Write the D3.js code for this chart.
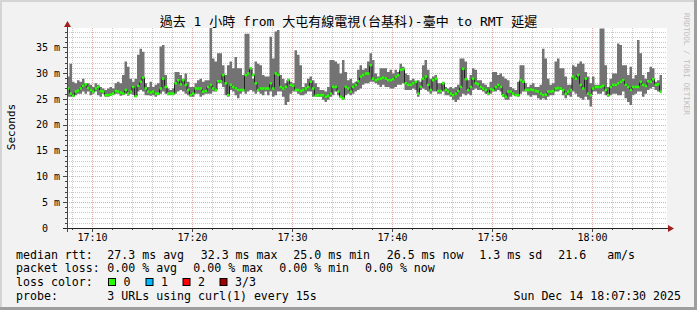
<!DOCTYPE html>
<meta charset="utf-8">
<script src="https://d3js.org/d3.v7.min.js"></script>
<style>
  body { margin: 0; background: #f2f2f2; }
  svg text { font-family: "DejaVu Sans Mono", "Noto Sans CJK TC", monospace; fill: #000; }
</style>
<div id="chart"></div>
<script>
// 15 s steps starting 17:07:30, values in milliseconds
const startTime = new Date(2025, 11, 14, 17, 7, 30);
const endTime = new Date(2025, 11, 14, 18, 7, 30);
const stepSec = 15;

const rttMax = [
  29.3,31.8,28.3,28.0,28.6,28.3,28.9,28.0,28.0,27.7, 27.3,28.0,27.7,27.3,27.0,26.7,27.0,27.3,27.0,28.0,
  28.3,28.0,29.6,32.2,31.2,28.9,28.3,28.9,33.5,34.7, 34.1,28.0,27.3,28.3,27.3,27.7,28.0,35.1,35.4,29.6,
  27.0,26.7,27.0,30.2,30.2,29.6,28.9,29.9,28.3,27.3, 27.3,28.0,28.6,28.9,28.3,28.6,28.6,39.5,32.8,32.2,
  33.8,33.8,31.5,29.6,31.5,32.2,30.9,33.1,30.9,30.9, 29.6,37.6,37.6,30.9,28.9,32.2,31.8,31.5,29.6,29.3,
  29.3,37.0,32.8,38.0,38.3,29.6,28.9,28.0,28.9,28.3, 28.0,34.4,33.5,31.5,27.3,28.0,28.9,29.3,28.6,28.0,
  27.3,26.7,26.7,26.4,27.3,32.5,32.5,32.2,31.8,29.9, 32.5,30.2,28.6,28.9,28.0,28.3,30.6,31.5,30.6,30.9,
  32.2,33.8,32.5,29.9,29.3,30.9,30.9,30.9,30.2,30.6, 29.9,30.6,30.2,31.8,31.2,29.9,29.6,28.6,28.9,28.3,
  28.6,28.3,31.5,32.5,30.6,28.9,29.3,29.6,28.0,28.0, 28.3,27.3,27.0,27.3,27.0,27.3,27.7,32.8,32.8,32.2,
  28.6,29.6,30.9,30.6,28.6,28.6,28.0,27.7,27.3,28.3, 30.2,30.2,29.6,29.9,29.3,28.9,28.6,27.3,27.0,26.7,
  28.3,31.5,31.5,28.0,27.3,27.7,28.0,27.3,27.3,27.7, 34.7,32.8,28.9,27.7,28.0,32.2,32.8,30.9,30.9,29.3,
  27.7,27.7,31.5,31.2,31.8,32.2,31.8,30.2,29.3,28.0, 29.3,27.7,27.7,38.6,38.6,31.5,27.3,28.9,29.9,29.9,
  35.7,35.4,31.5,31.5,29.6,31.2,28.9,29.6,36.4,33.8, 29.6,28.9,30.2,31.2,30.9,28.3,28.6,29.6
];
const rttMin = [
  25.4,25.4,25.4,25.7,26.0,26.0,26.4,26.0,26.4,25.7, 26.0,26.4,25.7,25.4,26.0,25.4,25.4,25.6,25.7,26.0,
  26.0,25.6,25.7,26.0,25.6,26.0,25.8,25.4,26.4,26.7, 26.4,25.7,25.7,25.6,25.7,25.4,25.7,26.0,26.4,26.0,
  25.7,25.7,25.7,26.0,26.4,26.7,26.4,26.0,25.7,25.4, 25.4,26.0,26.0,25.4,25.7,26.0,26.0,26.0,26.4,26.4,
  28.0,28.0,27.3,25.7,25.4,26.7,26.4,25.7,25.1,26.0, 26.4,26.0,26.4,26.7,26.4,26.0,26.4,26.0,25.7,26.4,
  25.7,26.4,25.4,25.7,26.4,26.4,25.4,23.8,24.4,26.0, 26.4,26.4,26.0,25.7,25.7,26.0,26.4,26.4,25.4,25.7,
  25.4,25.4,24.8,24.4,24.8,25.4,25.7,26.4,25.7,25.1, 24.8,25.7,26.0,25.7,26.0,26.4,26.7,27.0,27.7,28.0,
  28.0,28.3,28.3,28.0,27.7,27.3,27.7,27.3,27.3,27.0, 27.0,27.3,27.7,27.7,28.0,26.7,26.7,26.7,27.0,26.7,
  25.4,26.7,27.0,26.7,26.4,26.0,26.4,26.4,26.0,26.0, 26.4,25.7,25.7,25.4,24.8,24.4,24.8,25.4,26.0,25.7,
  26.0,25.7,26.7,27.0,26.7,26.7,26.4,26.0,25.7,26.0, 26.4,26.4,26.7,26.4,25.4,24.8,24.8,25.4,25.7,25.6,
  25.4,26.0,26.4,26.4,25.7,25.4,25.7,25.7,25.1,24.8, 25.1,24.8,25.4,25.7,25.7,26.4,26.4,26.7,25.7,25.1,
  25.7,25.4,26.4,26.0,25.4,25.1,24.8,25.4,24.8,23.5, 26.4,26.4,26.0,26.0,26.4,25.7,25.4,25.7,26.0,26.0,
  25.7,25.7,26.4,25.1,24.4,23.8,25.7,26.0,26.4,26.4, 25.4,26.0,26.7,27.0,27.3,26.7,26.4,26.4
];
const rttMedian = [
  27.0,26.0,25.6,26.4,26.6,27.0,27.5,27.8,27.1,26.7, 26.4,27.0,27.3,26.5,26.4,25.7,25.7,25.8,26.0,26.5,
  26.4,26.2,26.0,26.7,26.0,26.4,27.3,25.5,27.5,28.3, 29.1,27.0,26.4,26.2,26.4,26.0,26.0,27.0,28.9,27.3,
  26.0,26.0,26.0,28.0,28.6,27.8,28.6,27.7,26.7,25.7, 26.0,27.0,27.0,27.0,26.4,26.5,27.3,27.7,27.0,26.7,
  28.4,28.4,29.6,28.0,25.7,27.7,27.3,27.0,26.7,26.7, 26.7,29.6,29.9,30.9,29.6,28.0,26.7,27.0,27.0,27.0,
  27.0,28.0,27.0,29.9,29.6,27.3,27.0,27.3,28.6,27.7, 27.5,26.7,26.7,26.5,26.7,27.0,27.3,28.3,27.0,25.6,
  25.7,25.7,25.7,25.4,25.6,26.0,27.3,27.3,26.4,25.4, 25.1,27.3,27.0,26.4,27.3,27.7,28.4,29.3,29.6,29.9,
  29.9,31.5,28.9,28.6,28.8,28.9,29.1,28.9,28.6,28.6, 28.8,29.3,29.6,30.6,30.7,28.0,27.7,27.7,28.0,28.3,
  26.0,27.3,28.9,29.3,27.7,26.7,28.6,28.9,26.5,26.5, 28.0,26.7,26.4,26.0,25.7,26.0,26.5,27.3,30.8,28.8,
  26.7,27.3,28.9,28.0,27.8,27.3,27.0,26.7,26.0,26.9, 26.7,27.3,27.7,27.3,25.7,25.4,26.4,26.4,26.0,25.7,
  25.7,28.6,28.3,26.7,26.7,26.8,26.7,26.5,26.4,26.0, 25.7,25.8,26.4,26.4,26.5,27.0,27.1,27.0,26.7,26.0,
  26.4,26.7,29.3,28.9,29.6,27.7,27.0,28.9,26.0,25.7, 27.0,27.3,27.3,27.3,27.5,26.7,25.7,27.3,27.7,27.7,
  28.0,28.3,28.6,27.7,27.3,26.7,27.3,27.3,27.3,28.3, 27.7,27.5,28.4,28.3,28.8,27.7,27.8,26.4
];

const yTicks = [0, 5, 10, 15, 20, 25, 30, 35];
const xTickLabels = ["17:10", "17:20", "17:30", "17:40", "17:50", "18:00"];
const title = "過去 1 小時 from 大屯有線電視(台基科)-臺中 to RMT 延遲";
const rttStats = ["27.3 ms avg", "32.3 ms max", "25.0 ms min", "26.5 ms now", "1.3 ms sd", "21.6   am/s"];
const lossStats = ["0.00 % avg", "0.00 % max", "0.00 % min", "0.00 % now"];
const lossNames = ["0", "1", "2", "3/3"];
const lossColors = ["#26ff00", "#00b8ff", "#ff0000", "#a00000"];
const probeText = "3 URLs using curl(1) every 15s";
const dateText = "Sun Dec 14 18:07:30 2025";

const W = 697, H = 310;
const pLeft = 67, pRight = 667, pTop = 28, pBottom = 228;

const data = rttMedian.map((m, i) => ({
  t: new Date(startTime.getTime() + i * stepSec * 1000),
  t1: new Date(startTime.getTime() + (i + 1) * stepSec * 1000),
  min: rttMin[i], max: rttMax[i], med: m
}));
// closing point so the stepped paths cover the last interval
const last = data[data.length - 1];
const stepData = data.concat([{ t: last.t1, min: last.min, max: last.max, med: last.med }]);

const x = d3.scaleTime().domain([startTime, endTime]).range([pLeft, pRight]);
const y = d3.scaleLinear().domain([0, 38.7]).range([pBottom, pTop]);

const svg = d3.select("#chart").append("svg").attr("width", W).attr("height", H);

svg.append("rect").attr("width", W).attr("height", H).attr("fill", "#f2f2f2");
svg.append("rect").attr("width", W).attr("height", 2).attr("fill", "#d4d4d4");
svg.append("rect").attr("width", 2).attr("height", H).attr("fill", "#d4d4d4");
svg.append("rect").attr("y", H - 3).attr("width", W).attr("height", 3).attr("fill", "#9e9e9e");
svg.append("rect").attr("x", W - 3).attr("width", 3).attr("height", H).attr("fill", "#9e9e9e");

svg.append("rect").attr("x", pLeft).attr("y", pTop).attr("width", pRight - pLeft).attr("height", pBottom - pTop).attr("fill", "#fff");

svg.append("defs").append("clipPath").attr("id", "plotclip")
  .append("rect").attr("x", pLeft).attr("y", pTop).attr("width", pRight - pLeft).attr("height", pBottom - pTop);

// grid
const grid = svg.append("g");
const minorY = d3.range(1, 39).filter(v => v % 5 !== 0);
grid.selectAll(".hmin").data(minorY).enter().append("line")
  .attr("x1", pLeft).attr("x2", pRight).attr("y1", d => Math.round(y(d)) + 0.5).attr("y2", d => Math.round(y(d)) + 0.5)
  .attr("stroke", "#cacaca").attr("stroke-dasharray", "1,1");
const minorX = d3.timeMinute.every(2).range(startTime, endTime).filter(d => d.getMinutes() % 10 !== 0);
grid.selectAll(".vmin").data(minorX).enter().append("line")
  .attr("x1", d => Math.round(x(d)) + 0.5).attr("x2", d => Math.round(x(d)) + 0.5).attr("y1", pTop).attr("y2", pBottom)
  .attr("stroke", "#cacaca").attr("stroke-dasharray", "1,1");
grid.selectAll(".hmaj").data(yTicks.slice(1)).enter().append("line")
  .attr("x1", pLeft).attr("x2", pRight).attr("y1", d => Math.round(y(d)) + 0.5).attr("y2", d => Math.round(y(d)) + 0.5)
  .attr("stroke", "#e3a8a8").attr("stroke-dasharray", "1,1");
const majorX = d3.timeMinute.every(10).range(startTime, endTime);
grid.selectAll(".vmaj").data(majorX).enter().append("line")
  .attr("x1", d => Math.round(x(d)) + 0.5).attr("x2", d => Math.round(x(d)) + 0.5).attr("y1", pTop).attr("y2", pBottom)
  .attr("stroke", "#e3a8a8").attr("stroke-dasharray", "1,1");

// smoke, median line and loss coloured median bands
const plot = svg.append("g").attr("clip-path", "url(#plotclip)");
plot.append("path").datum(stepData)
  .attr("d", d3.area().curve(d3.curveStepAfter).x(d => x(d.t)).y0(d => y(d.min)).y1(d => y(d.max)))
  .attr("fill", "#737373");
plot.append("path").datum(stepData)
  .attr("d", d3.line().curve(d3.curveStepAfter).x(d => x(d.t)).y(d => y(d.med)))
  .attr("fill", "none").attr("stroke", "#202020").attr("stroke-width", 1);
plot.selectAll(".med").data(data).enter().append("rect")
  .attr("x", d => x(d.t)).attr("width", d => x(d.t1) - x(d.t))
  .attr("y", d => y(d.med) - 1.25).attr("height", 2.5)
  .attr("fill", lossColors[0]);

// axes
const xAxis = svg.append("g").attr("transform", `translate(0,${pBottom})`)
  .call(d3.axisBottom(x).tickValues(majorX).tickFormat((d, i) => xTickLabels[i]).tickSize(0).tickPadding(6));
xAxis.select(".domain").remove();
xAxis.selectAll("text").attr("font-size", 10).attr("font-family", "DejaVu Sans Mono");

const yAxis = svg.append("g").attr("transform", `translate(${pLeft},0)`)
  .call(d3.axisLeft(y).tickValues(yTicks).tickFormat(d => d === 0 ? "0  " : d + " m").tickSize(0).tickPadding(7));
yAxis.select(".domain").remove();
yAxis.selectAll("text").attr("font-size", 10).attr("font-family", "DejaVu Sans Mono")
  .attr("xml:space", "preserve").style("white-space", "pre");

// tick marks
svg.selectAll(".ytk").data(d3.range(0, 39)).enter().append("line")
  .attr("x1", d => d % 5 === 0 ? pLeft - 4 : pLeft - 2).attr("x2", pLeft)
  .attr("y1", d => Math.round(y(d)) + 0.5).attr("y2", d => Math.round(y(d)) + 0.5)
  .attr("stroke", "#444");
svg.selectAll(".xtk").data(d3.timeMinute.every(2).range(startTime, endTime)).enter().append("line")
  .attr("x1", d => Math.round(x(d)) + 0.5).attr("x2", d => Math.round(x(d)) + 0.5)
  .attr("y1", pBottom).attr("y2", d => d.getMinutes() % 10 === 0 ? pBottom + 4 : pBottom + 2)
  .attr("stroke", "#444");

svg.append("line").attr("x1", pLeft - 4).attr("x2", pRight + 2).attr("y1", pBottom + 0.5).attr("y2", pBottom + 0.5).attr("stroke", "#222");
svg.append("line").attr("x1", pLeft + 0.5).attr("x2", pLeft + 0.5).attr("y1", pBottom + 4).attr("y2", pTop - 2).attr("stroke", "#444");
svg.append("path").attr("d", `M${pRight + 1},${pBottom - 3} L${pRight + 7},${pBottom + 0.5} L${pRight + 1},${pBottom + 4} Z`).attr("fill", "#a02020");
svg.append("path").attr("d", `M${pLeft - 3},${pTop - 1} L${pLeft + 0.5},${pTop - 7} L${pLeft + 4},${pTop - 1} Z`).attr("fill", "#a02020");

// title and side labels
svg.append("text").attr("x", W / 2).attr("y", 26).attr("text-anchor", "middle").attr("font-size", 13)
  .attr("xml:space", "preserve").text(title);
svg.append("text").attr("transform", "translate(15,127) rotate(-90)").attr("text-anchor", "middle")
  .attr("font-size", 11).text("Seconds");
svg.append("text").attr("transform", "translate(684,13) rotate(90)").attr("font-size", 7.7)
  .style("fill", "#bdbdbd").text("RRDTOOL / TOBI OETIKER");

// legend
const leg = svg.append("g").attr("font-size", 11.6);
const rows = [258.7, 272.3, 285.7, 299.7];
leg.append("text").attr("x", 16).attr("y", rows[0]).text("median rtt:");
leg.append("text").attr("x", 16).attr("y", rows[1]).text("packet loss:");
leg.append("text").attr("x", 16).attr("y", rows[2]).text("loss color:");
leg.append("text").attr("x", 16).attr("y", rows[3]).text("probe:");
const rttX = [107.3, 200.7, 293.3, 386.7, 479.3, 558.3];
leg.selectAll(".rtt").data(rttStats).enter().append("text")
  .attr("x", (d, i) => rttX[i]).attr("y", rows[0])
  .attr("xml:space", "preserve").style("white-space", "pre").text(d => d);
const lossX = [107.3, 193.3, 279.3, 365];
leg.selectAll(".loss").data(lossStats).enter().append("text")
  .attr("x", (d, i) => lossX[i]).attr("y", rows[1]).text(d => d);
const boxX = [108.5, 146, 183, 220];
leg.selectAll(".box").data(lossColors).enter().append("rect")
  .attr("x", (d, i) => boxX[i]).attr("y", 278.5).attr("width", 7).attr("height", 7)
  .attr("fill", d => d).attr("stroke", "#000").attr("stroke-width", 1);
leg.selectAll(".lname").data(lossNames).enter().append("text")
  .attr("x", (d, i) => boxX[i] + 15).attr("y", rows[2]).text(d => d);
leg.append("text").attr("x", 107.3).attr("y", rows[3]).text(probeText);
leg.append("text").attr("x", 681).attr("y", rows[3]).attr("text-anchor", "end").text(dateText);
</script>
